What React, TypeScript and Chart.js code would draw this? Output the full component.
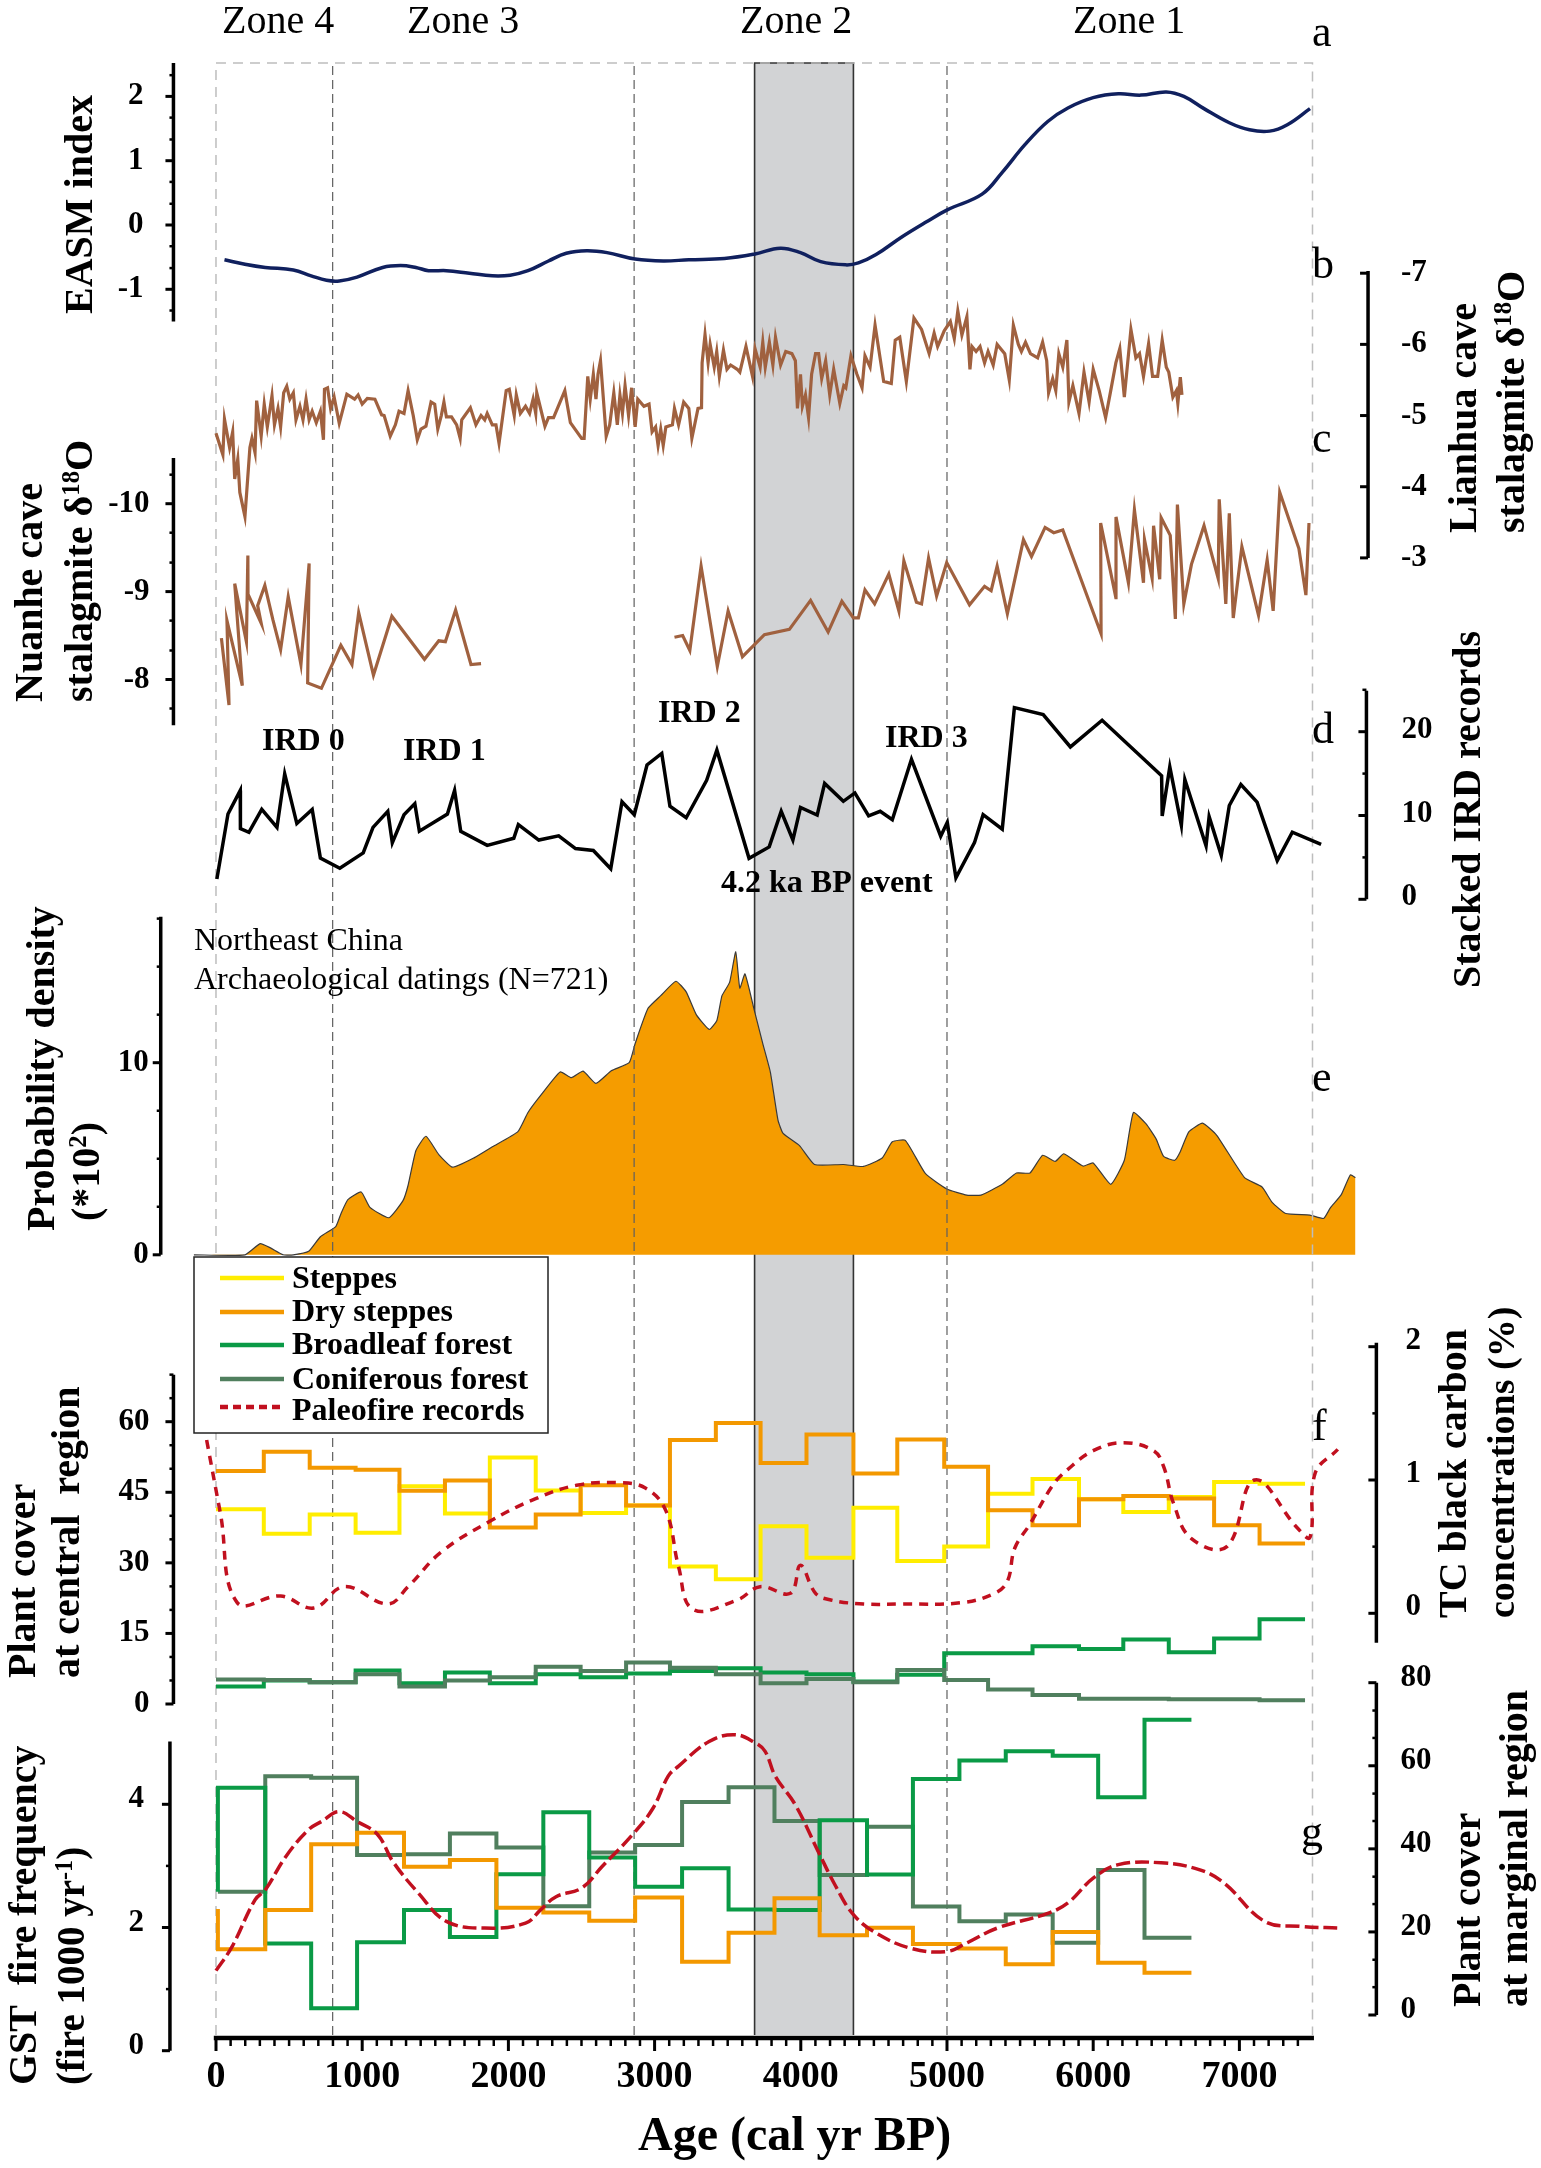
import { useEffect, useRef } from 'react';
import { Chart, registerables } from 'chart.js';

Chart.register(...registerables);

const WIDTH = 1541;
const HEIGHT = 2168;
const FONT = '"Liberation Serif"';

// age (cal yr BP), value pairs
const easmIndex = [[58,-0.54],[198,-0.61],[337,-0.66],[529,-0.70],[651,-0.79],[756,-0.86],[843,-0.87],[965,-0.81],[1140,-0.66],[1262,-0.63],[1367,-0.66],[1454,-0.71],[1576,-0.71],[1733,-0.75],[1890,-0.79],[2012,-0.78],[2134,-0.71],[2274,-0.56],[2396,-0.44],[2536,-0.40],[2675,-0.43],[2867,-0.53],[3059,-0.56],[3234,-0.54],[3478,-0.52],[3687,-0.45],[3860,-0.36],[3998,-0.43],[4136,-0.57],[4308,-0.62],[4394,-0.59],[4515,-0.46],[4688,-0.19],[4860,0.05],[5005,0.24],[5240,0.48],[5378,0.82],[5533,1.25],[5689,1.61],[5827,1.82],[6000,1.98],[6172,2.04],[6327,2.02],[6500,2.07],[6620,2.0],[6758,1.81],[6931,1.59],[7069,1.48],[7207,1.46],[7328,1.56],[7483,1.81]];

const lianhua = [[0,-4.75],[47,-4.45],[58,-4.95],[93,-4.55],[114,-4.77],[128,-4.11],[149,-4.39],[163,-3.92],[198,-3.58],[232,-4.55],[246,-4.68],[267,-4.48],[278,-5.21],[309,-4.71],[330,-5.16],[351,-4.84],[383,-5.28],[400,-4.87],[424,-5.10],[442,-4.84],[463,-5.32],[484,-5.41],[505,-5.23],[529,-5.32],[547,-4.94],[574,-5.13],[595,-4.94],[616,-5.23],[637,-4.94],[658,-5.06],[686,-4.90],[714,-5.06],[735,-4.66],[742,-5.37],[763,-5.39],[784,-5.10],[808,-5.26],[843,-4.89],[895,-5.30],[948,-5.23],[972,-5.29],[1000,-5.16],[1035,-5.24],[1087,-5.23],[1133,-5.01],[1150,-5.0],[1192,-4.71],[1227,-4.87],[1252,-5.06],[1286,-5.03],[1314,-5.35],[1349,-5.0],[1377,-4.66],[1402,-4.81],[1436,-4.85],[1471,-5.19],[1496,-5.16],[1517,-4.81],[1541,-5.0],[1559,-5.19],[1576,-4.98],[1611,-4.98],[1646,-4.87],[1670,-4.68],[1681,-4.94],[1740,-5.11],[1778,-4.87],[1813,-5.0],[1838,-4.94],[1855,-5.03],[1890,-4.87],[1915,-4.87],[1936,-4.61],[1985,-5.35],[2006,-5.37],[2040,-5.0],[2054,-5.29],[2082,-5.03],[2117,-5.13],[2145,-5.03],[2169,-5.23],[2187,-5.03],[2194,-5.32],[2250,-4.85],[2274,-4.97],[2309,-4.97],[2386,-5.35],[2424,-4.90],[2501,-4.68],[2518,-4.68],[2543,-5.55],[2560,-5.23],[2581,-5.58],[2599,-5.23],[2613,-5.58],[2630,-5.77],[2669,-4.71],[2693,-4.87],[2721,-5.32],[2745,-4.87],[2763,-5.29],[2780,-5.03],[2798,-5.42],[2822,-5.0],[2843,-5.39],[2867,-4.84],[2885,-5.23],[2927,-5.13],[2962,-5.16],[2983,-4.77],[3007,-4.84],[3024,-4.58],[3042,-4.81],[3059,-4.58],[3077,-4.84],[3122,-4.87],[3136,-5.10],[3164,-4.87],[3199,-5.19],[3234,-5.10],[3255,-4.68],[3297,-5.10],[3321,-5.11],[3325,-5.74],[3345,-6.14],[3366,-5.74],[3380,-6.0],[3408,-5.68],[3425,-5.90],[3443,-5.55],[3471,-5.92],[3495,-5.65],[3520,-5.71],[3565,-5.65],[3583,-5.61],[3625,-5.97],[3670,-5.55],[3687,-5.94],[3722,-5.68],[3740,-6.03],[3757,-5.68],[3785,-6.03],[3809,-5.71],[3827,-6.10],[3862,-5.71],[3897,-5.90],[3939,-5.87],[3963,-5.77],[3977,-5.10],[3998,-5.58],[4011,-5.13],[4032,-5.29],[4053,-4.97],[4074,-5.58],[4101,-5.87],[4122,-5.87],[4143,-5.52],[4170,-5.77],[4198,-5.29],[4225,-5.65],[4267,-5.17],[4294,-5.42],[4308,-5.39],[4343,-5.84],[4384,-5.58],[4419,-5.39],[4439,-5.84],[4474,-5.68],[4508,-6.27],[4567,-5.48],[4619,-5.45],[4646,-6.06],[4677,-6.10],[4722,-5.48],[4774,-6.37],[4826,-6.21],[4878,-5.87],[4912,-6.16],[4936,-5.97],[4981,-6.19],[5023,-6.32],[5050,-6.08],[5074,-6.47],[5102,-6.13],[5136,-6.39],[5157,-5.65],[5171,-5.97],[5199,-5.90],[5226,-5.97],[5257,-5.74],[5281,-5.90],[5316,-5.71],[5343,-6.0],[5395,-5.87],[5426,-5.50],[5454,-6.27],[5488,-6.0],[5509,-5.90],[5537,-6.03],[5571,-5.87],[5620,-5.81],[5654,-6.03],[5682,-5.77],[5695,-5.32],[5723,-5.52],[5744,-5.35],[5765,-5.87],[5792,-5.68],[5820,-6.06],[5834,-5.19],[5861,-5.42],[5903,-5.03],[5937,-5.61],[5972,-5.19],[6000,-5.65],[6041,-5.35],[6085,-4.97],[6120,-5.35],[6155,-5.74],[6182,-5.94],[6213,-5.26],[6258,-6.21],[6292,-5.81],[6317,-5.87],[6344,-5.55],[6379,-6.01],[6406,-5.55],[6441,-5.55],[6472,-6.06],[6500,-5.68],[6517,-5.61],[6545,-5.26],[6569,-5.35],[6579,-5.17],[6596,-5.54],[6607,-5.29]];

const nuanhe = [[37,-8.47],[89,-7.71],[75,-8.67],[180,-7.93],[128,-9.09],[208,-8.43],[218,-9.41],[219,-8.97],[309,-8.64],[285,-8.84],[334,-9.07],[389,-8.68],[442,-8.34],[494,-8.94],[581,-8.17],[637,-9.32],[627,-7.96],[721,-7.90],[854,-8.39],[930,-8.17],[976,-8.76],[1077,-8.05],[1203,-8.72],[1426,-8.23],[1524,-8.44],[1569,-8.43],[1639,-8.79],[1744,-8.17],[1813,-8.18],[2400,null],[3136,-8.48],[3192,-8.50],[3241,-8.33],[3318,-9.29],[3429,-8.15],[3503,-8.78],[3601,-8.26],[3751,-8.51],[3922,-8.57],[4067,-8.90],[4187,-8.54],[4281,-8.89],[4360,-8.70],[4394,-8.70],[4439,-9.02],[4505,-8.86],[4602,-9.20],[4671,-8.78],[4705,-9.35],[4791,-8.88],[4826,-8.86],[4874,-9.38],[4929,-8.95],[4998,-9.33],[5154,-8.85],[5257,-9.06],[5302,-9.01],[5343,-9.29],[5413,-8.75],[5523,-9.59],[5578,-9.40],[5671,-9.73],[5730,-9.67],[5792,-9.70],[6054,-8.52],[6051,-9.78],[6155,-8.93],[6156,-9.85],[6241,-9.10],[6282,-9.93],[6344,-9.10],[6351,-9.59],[6403,-9.15],[6413,-9.75],[6455,-9.14],[6465,-9.84],[6527,-9.64],[6562,-8.69],[6576,-9.99],[6620,-8.86],[6672,-9.31],[6758,-9.75],[6855,-9.15],[6862,-10.05],[6907,-8.86],[6931,-9.89],[6958,-8.70],[7017,-9.51],[7131,-8.73],[7190,-9.36],[7231,-8.78],[7276,-10.13],[7407,-9.49],[7455,-8.96],[7476,-9.78]];

const ird = [[6,2.42],[82,10.18],[166,12.99],[167,8.43],[225,8.0],[313,10.73],[417,8.58],[470,14.97],[553,9.04],[658,10.73],[714,4.93],[847,3.70],[1007,5.53],[1074,8.58],[1175,10.50],[1206,6.76],[1286,10.09],[1360,11.42],[1391,8.12],[1583,10.18],[1632,13.0],[1674,8.12],[1855,6.43],[2037,7.29],[2068,8.90],[2208,7.07],[2344,7.58],[2459,6.05],[2581,5.82],[2700,3.65],[2777,11.64],[2861,10.09],[2948,16.03],[3049,17.40],[3105,11.1],[3216,9.73],[3356,14.2],[3426,17.8],[3646,4.89],[3784,6.25],[3866,10.5],[3946,7.08],[3998,10.96],[4112,10.05],[4163,13.83],[4291,11.69],[4370,12.69],[4464,9.95],[4543,10.5],[4626,9.5],[4757,16.71],[4957,7.53],[5002,9.18],[5061,2.56],[5188,6.76],[5247,10.1],[5378,8.37],[5461,22.88],[5658,22.05],[5844,18.18],[6061,21.37],[6468,14.75],[6472,9.95],[6524,15.8],[6603,8.83],[6627,14.3],[6772,6.39],[6793,9.86],[6876,5.25],[6931,11.19],[7010,13.7],[7121,11.59],[7259,4.61],[7362,8.0],[7559,6.55]];

const density = [[-151,0],[198,0],[302,0.58],[372,0.36],[459,0],[529,0],[634,0.18],[714,0.94],[819,1.47],[854,2.13],[902,2.87],[993,3.27],[1053,2.47],[1182,1.93],[1279,2.82],[1314,3.62],[1367,5.42],[1436,6.17],[1524,5.22],[1618,4.56],[1768,5.06],[1890,5.62],[2065,6.41],[2134,7.41],[2222,8.31],[2354,9.52],[2431,9.22],[2511,9.56],[2599,8.92],[2704,9.58],[2826,10.0],[2867,11.0],[2955,12.83],[3042,13.49],[3146,14.24],[3216,13.69],[3286,12.49],[3374,11.73],[3426,12.2],[3461,13.49],[3513,14.18],[3555,15.77],[3583,13.88],[3618,14.62],[3680,12.79],[3740,10.99],[3792,9.5],[3844,7.01],[3879,6.32],[3991,5.68],[4094,4.7],[4291,4.7],[4429,4.6],[4557,5.04],[4626,5.88],[4715,5.96],[4853,4.22],[4998,3.43],[5136,3.11],[5233,3.11],[5378,3.67],[5475,4.26],[5568,4.26],[5654,5.18],[5740,4.86],[5799,5.26],[5930,4.62],[6000,4.78],[6120,3.67],[6213,4.92],[6275,7.41],[6362,6.81],[6431,6.02],[6482,5.12],[6558,4.92],[6593,5.32],[6655,6.41],[6748,6.85],[6845,6.22],[7035,4.02],[7155,3.53],[7224,2.73],[7317,2.15],[7483,2.07],[7576,1.89],[7621,2.43],[7697,3.13],[7759,4.16],[7794,4.02]];

// pollen bins, central region
const centralEdges = [0,327,641,955,1255,1566,1873,2187,2494,2805,3105,3419,3725,4039,4360,4660,4981,5281,5585,5903,6206,6517,6827,7138,7449];
const centralSteppes = [41.4,36.2,40.3,36.4,46.3,40.5,52.4,45.4,40.6,42.2,29.2,26.5,37.8,31.1,41.7,30.4,33.5,44.7,47.8,43.5,40.8,44.0,47.2,46.8];
const centralDrySteppes = [49.5,53.6,50.2,49.8,45.3,47.5,37.5,40.3,46.5,42.2,56.1,59.7,51.2,57.3,49.0,56.2,50.4,41.2,38.0,43.5,44.2,43.7,38.0,34.1];
const centralBroadleaf = [3.7,5.0,4.6,7.1,4.4,6.7,4.4,6.3,5.7,6.5,7.0,7.6,6.7,6.3,4.8,6.2,10.8,10.8,12.3,11.7,13.7,11.0,13.9,18.0];
const centralConiferous = [5.2,5.1,4.6,6.3,3.7,5.0,5.7,7.9,7.0,8.8,7.7,6.3,4.4,5.3,4.6,7.2,5.1,3.1,1.9,1.1,1.1,1.0,1.0,0.8];

const blackCarbon = [[-64,1.30],[30,0.75],[145,0.08],[442,0.13],[669,0.04],[878,0.20],[1175,0.07],[1314,0.20],[1541,0.46],[1873,0.69],[2187,0.86],[2466,0.96],[2745,0.98],[2937,0.94],[3077,0.77],[3164,0.35],[3262,0.03],[3565,0.10],[3722,0.20],[3929,0.15],[3998,0.36],[4101,0.15],[4205,0.10],[4429,0.07],[4688,0.07],[5102,0.08],[5326,0.15],[5413,0.24],[5464,0.49],[5568,0.67],[5723,0.96],[5827,1.08],[6000,1.22],[6206,1.28],[6413,1.22],[6482,1.10],[6551,0.82],[6672,0.56],[6914,0.50],[7104,1.0],[7397,0.64],[7483,0.57],[7518,1.05],[7673,1.23]];

// pollen bins, marginal region
const marginalEdges = [13,337,651,965,1286,1600,1918,2239,2553,2867,3188,3506,3820,4129,4453,4767,5085,5402,5723,6034,6351,6672];
const marginalBroadleaf = [54.7,17.2,1.6,17.5,25.3,18.8,33.9,48.8,37.9,30.9,35.3,25.4,25.3,46.9,33.8,56.8,61.3,63.5,62.4,52.4,71.1];
const marginalConiferous = [29.7,57.5,57.1,38.5,38.7,43.7,40.3,26.2,39.1,40.9,51.3,54.8,46.7,33.7,45.3,26.1,22.6,24.2,17.4,34.9,18.6];
const marginalDrySteppes = [15.8,25.3,41.1,43.9,35.7,37.3,25.8,24.7,22.7,28.3,12.8,19.8,28.1,19.2,21.0,17.1,16.0,12.2,20.0,12.6,10.2];

const gstFire = [[0,1.30],[110,1.69],[267,2.45],[337,2.61],[477,3.15],[634,3.59],[721,3.72],[843,3.88],[965,3.72],[1105,3.51],[1210,3.07],[1384,2.56],[1576,2.10],[1838,1.99],[2117,2.07],[2222,2.29],[2326,2.50],[2501,2.64],[2641,2.99],[2850,3.51],[2990,3.94],[3094,4.46],[3164,4.62],[3373,5.02],[3548,5.13],[3687,5.0],[3756,4.86],[3825,4.46],[3963,3.99],[4118,3.24],[4239,2.67],[4360,2.21],[4515,1.91],[4757,1.66],[4998,1.61],[5136,1.75],[5343,1.99],[5689,2.23],[5827,2.40],[6000,2.80],[6172,3.02],[6465,3.05],[6724,2.94],[6896,2.72],[7172,2.10],[7414,2.02],[7690,1.99]];

const zoneAges = [798, 2860, 5000];
const frameAges = [0, 7500];
const eventBand = [3684, 4360];

const ageMajor = [0,1000,2000,3000,4000,5000,6000,7000];
const ageMinor = [100,200,300,400,500,600,700,800,900,1100,1200,1300,1400,1500,1600,1700,1800,1900,2100,2200,2300,2400,2500,2600,2700,2800,2900,3100,3200,3300,3400,3500,3600,3700,3800,3900,4100,4200,4300,4400,4500,4600,4700,4800,4900,5100,5200,5300,5400,5500,5600,5700,5800,5900,6100,6200,6300,6400,6500,6600,6700,6800,6900,7100,7200,7300,7400];

const legendNames = ['Steppes', 'Dry steppes', 'Broadleaf forest', 'Coniferous forest', 'Paleofire records'];

const YELLOW = '#ffed00';
const ORANGE = '#f39800';
const GREEN = '#0a9a46';
const CONIFER = '#507f5e';
const RED = '#c1101f';
const BROWN = '#a0613f';
const NAVY = '#10205e';

const toPoints = (pairs: any[]) => pairs.map(([x, y]) => ({ x, y }));

// a value holds from its edge to the next one, the last value closes on the last edge
const toSteps = (edges: number[], values: number[], start?: number) => {
  const pts = edges.map((x, i) => ({ x, y: values[Math.min(i, values.length - 1)] }));
  return start === undefined ? pts : [{ x: edges[0], y: start }, ...pts];
};

// the y scales all span the whole canvas, so each range comes from two readings on its axis
const spanning = (v1: number, px1: number, v2: number, px2: number) => {
  const perPx = (v2 - v1) / (px2 - px1);
  const atTop = v1 - px1 * perPx;
  const atBottom = v1 + (HEIGHT - px1) * perPx;
  return atTop > atBottom
    ? { type: 'linear', display: false, min: atBottom, max: atTop }
    : { type: 'linear', display: false, min: atTop, max: atBottom, reverse: true };
};

const yAxes = [
  { id: 'yEasm', age: -291, from: 2.52, to: -1.5, major: [2, 1, 0, -1], minor: [2.33, 1.67, 1.33, 0.67, 0.33, -0.33, -0.67, -1.33], side: 'left', gap: 30, shift: 0 },
  { id: 'yLianhua', age: 7880, from: -7.03, to: -3, major: [-7, -6, -5, -4, -3], minor: [], side: 'right', gap: 33, shift: 0 },
  { id: 'yNuanhe', age: -291, from: -10.52, to: -7.48, major: [-10, -9, -8], minor: [-10.33, -9.67, -9.33, -8.67, -8.33, -7.67], side: 'left', gap: 24, shift: 0 },
  { id: 'yIrd', age: 7869, from: 24.9, to: 0, major: [20, 10, 0], minor: [25, 15, 5], side: 'right', gap: 35, shift: -2 },
  { id: 'yDensity', age: -378, from: 17.6, to: 0, major: [10, 0], minor: [17.5, 15, 12.5, 7.5, 5, 2.5], side: 'left', gap: 12, shift: 0 },
  { id: 'yCentral', age: -291, from: 70, to: 0, major: [60, 45, 30, 15, 0], minor: [70, 65, 55, 50, 40, 35, 25, 20, 10, 5], side: 'left', gap: 24, shift: 0 },
  { id: 'yCarbon', age: 7937, from: 2.03, to: -0.22, major: [2, 1, 0], minor: [1.5, 0.5], side: 'right', gap: 29, shift: -6 },
  { id: 'yFire', age: -315, from: 5.02, to: 0, major: [4, 2, 0], minor: [3, 1], side: 'left', gap: 26, shift: -5 },
  { id: 'yMarginal', age: 7937, from: 80, to: 0, major: [80, 60, 40, 20, 0], minor: [73.3, 66.7, 53.3, 46.7, 33.3, 26.7, 13.3, 6.7], side: 'right', gap: 24, shift: -5 },
];

// parts starting with ^ are set as superscripts
const drawParts = (ctx: any, parts: string[], x: number, y: number, size: number, weight = 'bold', rotated = false) => {
  ctx.save();
  ctx.translate(x, y);
  if (rotated) ctx.rotate(-Math.PI / 2);
  ctx.textAlign = 'left';
  ctx.textBaseline = 'alphabetic';
  let cursor = 0;
  parts.forEach((part) => {
    const sup = part.startsWith('^');
    const text = sup ? part.slice(1) : part;
    ctx.font = `${weight} ${sup ? size * 0.62 : size}px ${FONT}`;
    ctx.fillText(text, cursor, sup ? -size * 0.32 : 0);
    cursor += ctx.measureText(text).width;
  });
  ctx.restore();
};

const figurePlugin = {
  id: 'figure',
  afterDatasetsDraw(chart: any) {
    const { ctx, scales } = chart;
    const xs = scales.x;
    ctx.save();
    ctx.strokeStyle = '#000';
    ctx.fillStyle = '#000';

    // y axes, tick marks always point left of the spine
    yAxes.forEach((axis) => {
      const scale = scales[axis.id];
      const x = xs.getPixelForValue(axis.age);
      ctx.lineWidth = 3.5;
      ctx.beginPath();
      ctx.moveTo(x, scale.getPixelForValue(axis.from));
      ctx.lineTo(x, scale.getPixelForValue(axis.to));
      ctx.stroke();
      axis.minor.forEach((v) => {
        const y = scale.getPixelForValue(v);
        ctx.lineWidth = 2.5;
        ctx.beginPath();
        ctx.moveTo(x, y);
        ctx.lineTo(x - 4, y);
        ctx.stroke();
      });
      axis.major.forEach((v) => {
        const y = scale.getPixelForValue(v);
        ctx.lineWidth = 3;
        ctx.beginPath();
        ctx.moveTo(x, y);
        ctx.lineTo(x - 8, y);
        ctx.stroke();
        ctx.font = `bold 31px ${FONT}`;
        ctx.textBaseline = 'middle';
        ctx.textAlign = axis.side === 'left' ? 'right' : 'left';
        ctx.fillText(String(v), axis.side === 'left' ? x - axis.gap : x + axis.gap, y + axis.shift);
      });
    });

    // age axis
    const yAge = scales.yFrame.getPixelForValue(0) + 3;
    ctx.lineWidth = 4.5;
    ctx.beginPath();
    ctx.moveTo(xs.getPixelForValue(-15), yAge);
    ctx.lineTo(xs.getPixelForValue(7510), yAge);
    ctx.stroke();
    ctx.lineWidth = 2.5;
    ageMinor.forEach((age) => {
      const x = xs.getPixelForValue(age);
      ctx.beginPath();
      ctx.moveTo(x, yAge);
      ctx.lineTo(x, yAge + 8);
      ctx.stroke();
    });
    ageMajor.forEach((age) => {
      const x = xs.getPixelForValue(age);
      ctx.lineWidth = 3;
      ctx.beginPath();
      ctx.moveTo(x, yAge);
      ctx.lineTo(x, yAge + 13);
      ctx.stroke();
      ctx.font = `bold 38px ${FONT}`;
      ctx.textAlign = 'center';
      ctx.textBaseline = 'alphabetic';
      ctx.fillText(String(age), x, 2087);
    });

    // legend
    const colours = [YELLOW, ORANGE, GREEN, CONIFER, RED];
    const rows = [1278, 1312, 1345, 1379, 1407];
    const baselines = [1288, 1321, 1354, 1389, 1420];
    ctx.fillStyle = '#fff';
    ctx.fillRect(194, 1257, 354, 176);
    ctx.strokeStyle = '#222';
    ctx.lineWidth = 1.5;
    ctx.strokeRect(194, 1257, 354, 176);
    ctx.fillStyle = '#000';
    legendNames.forEach((name, i) => {
      ctx.strokeStyle = colours[i];
      ctx.lineWidth = 4.5;
      ctx.setLineDash(i === 4 ? [8, 5] : []);
      ctx.beginPath();
      ctx.moveTo(220, rows[i]);
      ctx.lineTo(284, rows[i]);
      ctx.stroke();
      ctx.setLineDash([]);
      drawParts(ctx, [name], 292, baselines[i], 32);
    });

    // upright text
    const thin = 'normal';
    drawParts(ctx, ['Zone 4'], 222, 33, 40, thin);
    drawParts(ctx, ['Zone 3'], 407, 33, 40, thin);
    drawParts(ctx, ['Zone 2'], 740, 33, 40, thin);
    drawParts(ctx, ['Zone 1'], 1073, 33, 40, thin);
    drawParts(ctx, ['a'], 1312, 46, 44, thin);
    drawParts(ctx, ['b'], 1312, 278, 44, thin);
    drawParts(ctx, ['c'], 1312, 452, 44, thin);
    drawParts(ctx, ['d'], 1312, 743, 44, thin);
    drawParts(ctx, ['e'], 1312, 1091, 44, thin);
    drawParts(ctx, ['f'], 1312, 1440, 44, thin);
    drawParts(ctx, ['g'], 1301, 1846, 44, thin);
    drawParts(ctx, ['IRD 0'], 262, 750, 32);
    drawParts(ctx, ['IRD 1'], 403, 760, 32);
    drawParts(ctx, ['IRD 2'], 658, 722, 32);
    drawParts(ctx, ['IRD 3'], 885, 747, 32);
    drawParts(ctx, ['4.2 ka BP event'], 721, 892, 32);
    drawParts(ctx, ['Northeast China'], 194, 950, 32, thin);
    drawParts(ctx, ['Archaeological datings (N=721)'], 194, 989, 32, thin);
    drawParts(ctx, ['Age (cal yr BP)'], 638, 2150, 48);

    // axis titles
    drawParts(ctx, ['EASM index'], 92, 314, 40, 'bold', true);
    drawParts(ctx, ['Nuanhe cave'], 42, 702, 40, 'bold', true);
    drawParts(ctx, ['stalagmite δ', '^18', 'O'], 92, 702, 40, 'bold', true);
    drawParts(ctx, ['Lianhua cave'], 1476, 533, 40, 'bold', true);
    drawParts(ctx, ['stalagmite δ', '^18', 'O'], 1524, 533, 40, 'bold', true);
    drawParts(ctx, ['Stacked IRD records'], 1480, 988, 40, 'bold', true);
    drawParts(ctx, ['Probability density'], 54, 1231, 40, 'bold', true);
    drawParts(ctx, ['(*10', '^2', ')'], 99, 1221, 40, 'bold', true);
    drawParts(ctx, ['Plant cover'], 35, 1678, 40, 'bold', true);
    drawParts(ctx, ['at central  region'], 79, 1678, 40, 'bold', true);
    drawParts(ctx, ['GST  fire frequency'], 36, 2085, 40, 'bold', true);
    drawParts(ctx, ['(fire 1000 yr', '^-1', ')'], 84, 2085, 39, 'bold', true);
    drawParts(ctx, ['TC black carbon'], 1466, 1618, 40, 'bold', true);
    drawParts(ctx, ['concentrations (%)'], 1514, 1618, 38, 'bold', true);
    drawParts(ctx, ['Plant cover'], 1480, 2007, 40, 'bold', true);
    drawParts(ctx, ['at marginal region'], 1527, 2007, 40, 'bold', true);
    ctx.restore();
  },
};

export default function App() {
  const canvasRef = useRef<HTMLCanvasElement>(null);

  useEffect(() => {
    if (!canvasRef.current) return;

    const line = (data: any[], yAxisID: string, borderColor: string, borderWidth: number, extra: any = {}) => ({
      data,
      yAxisID,
      borderColor,
      borderWidth,
      pointRadius: 0,
      fill: false,
      tension: 0,
      borderJoinStyle: 'miter',
      ...extra,
    });
    const stepped = { stepped: true };
    const redDash = (dash: number[]) => ({ tension: 0.4, borderDash: dash });
    const [bandStart, bandEnd] = eventBand;

    const chart = new Chart(canvasRef.current, {
      type: 'line',
      data: {
        datasets: [
          // f
          line(toPoints(blackCarbon), 'yCarbon', RED, 3.5, redDash([9, 7])),
          line(toSteps(centralEdges, centralDrySteppes), 'yCentral', ORANGE, 4, stepped),
          line(toSteps(centralEdges, centralSteppes), 'yCentral', YELLOW, 4, stepped),
          line(toSteps(centralEdges, centralConiferous), 'yCentral', CONIFER, 4, stepped),
          line(toSteps(centralEdges, centralBroadleaf), 'yCentral', GREEN, 4, stepped),
          // g
          line(toPoints(gstFire), 'yFire', RED, 3.5, redDash([14, 5])),
          line(toSteps(marginalEdges, marginalDrySteppes, 25.5), 'yMarginal', ORANGE, 4, stepped),
          line(toSteps(marginalEdges, marginalBroadleaf, 29.7), 'yMarginal', GREEN, 4, stepped),
          line(toSteps(marginalEdges, marginalConiferous), 'yMarginal', CONIFER, 4, stepped),
          // a to d
          line(toPoints(easmIndex), 'yEasm', NAVY, 3.5, { tension: 0.4 }),
          line(toPoints(lianhua), 'yLianhua', BROWN, 3.2),
          line(toPoints(nuanhe), 'yNuanhe', BROWN, 3.2),
          line(toPoints(ird), 'yIrd', '#000', 3.5),
          // zone and frame lines sit above the density area, below the curves
          ...zoneAges.map((age) =>
            line([{ x: age, y: 0 }, { x: age, y: 1 }], 'yFrame', '#5f5f5f', 1.2, { borderDash: [9, 5], order: 80 })
          ),
          line(
            [{ x: frameAges[0], y: 0 }, { x: frameAges[0], y: 1 }, { x: frameAges[1], y: 1 }, { x: frameAges[1], y: 0 }],
            'yFrame', '#bdbdbd', 1.5, { borderDash: [10, 7], order: 80 }
          ),
          line(toPoints(density), 'yDensity', '#3a3a3a', 1.2, {
            fill: { value: 0 }, backgroundColor: '#f59c00', order: 90, tension: 0.15,
          }),
          line(
            [{ x: bandStart, y: 0 }, { x: bandStart, y: 1 }, { x: bandEnd, y: 1 }, { x: bandEnd, y: 0 }],
            'yFrame', '#333', 1.6, { fill: { value: 0 }, backgroundColor: '#d2d3d5', order: 100 }
          ),
        ],
      },
      options: {
        responsive: false,
        devicePixelRatio: 1,
        animation: false,
        layout: { padding: 0 },
        plugins: { legend: { display: false }, title: { display: false }, tooltip: { enabled: false } },
        scales: {
          x: { type: 'linear', display: false, min: -1477.4, max: 9063 },
          yFrame: spanning(1, 63, 0, 2035),
          yEasm: spanning(2, 96.4, -1, 289.3),
          yLianhua: spanning(-7, 273.2, -3, 557.9),
          yNuanhe: spanning(-10, 503.7, -8, 679.5),
          yIrd: spanning(20, 731.7, 0, 899.3),
          yDensity: spanning(10, 1062.7, 0, 1254.8),
          yCentral: spanning(60, 1421.7, 0, 1704),
          yCarbon: spanning(1, 1480, 0, 1613.3),
          yFire: spanning(4, 1804.3, 0, 2050.7),
          yMarginal: spanning(80, 1682.7, 0, 2015),
        },
      },
      plugins: [figurePlugin],
    } as any);

    return () => {
      chart.destroy();
    };
  }, []);

  return (
    <div style={{ position: 'absolute', left: 0, top: 0, width: WIDTH, height: HEIGHT, background: '#fff' }}>
      <canvas ref={canvasRef} width={WIDTH} height={HEIGHT} style={{ display: 'block' }} />
    </div>
  );
}
